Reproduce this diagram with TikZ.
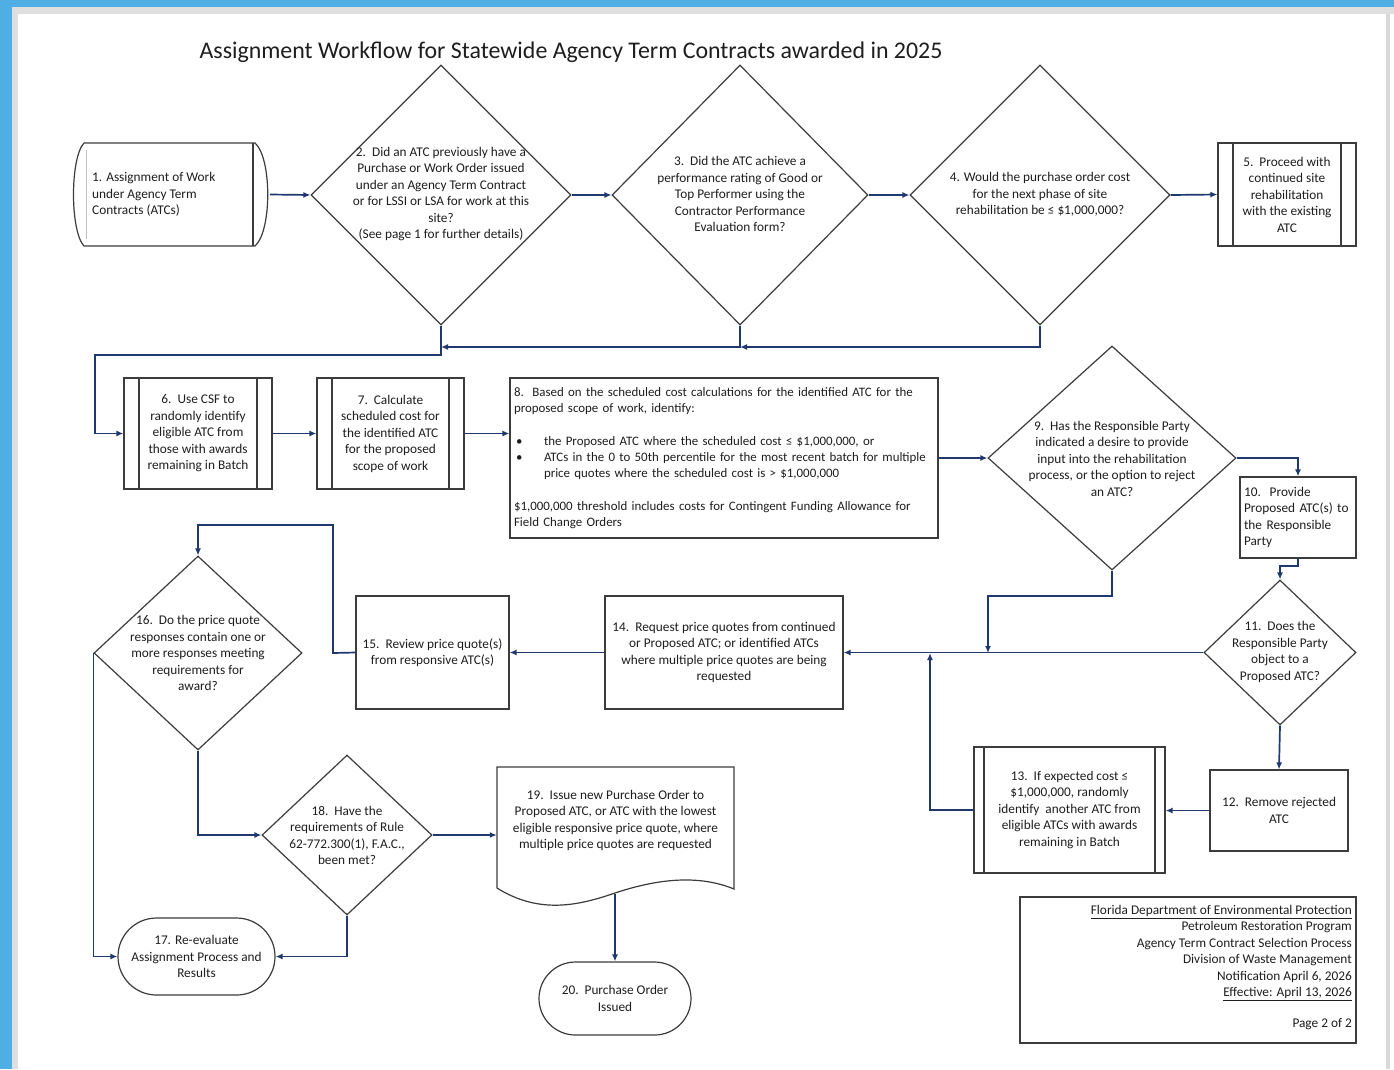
\documentclass[tikz,border=0pt]{standalone}
\usepackage{fontspec}
\setmainfont{Carlito}
\usetikzlibrary{shapes.geometric,shapes.misc,arrows.meta}
\definecolor{frameblue}{RGB}{79,174,228}
\definecolor{navy}{RGB}{31,56,110}
\definecolor{outl}{RGB}{60,60,60}
\definecolor{txtc}{RGB}{30,30,30}
\begin{document}
\begin{tikzpicture}[x=1pt,y=-1pt,
  ft/.style={font=\fontsize{13.3}{16.5}\selectfont, text=txtc},
  shp/.style={draw=outl, line width=1.2pt},
  box/.style={shp, rectangle, inner sep=0pt, ft, align=center},
  pp/.style={box, path picture={\draw[outl,line width=1.2pt]
     ([xshift=#1]path picture bounding box.north west) -- ([xshift=#1]path picture bounding box.south west)
     ([xshift=-#1]path picture bounding box.north east) -- ([xshift=-#1]path picture bounding box.south east);}},
  pp/.default=15pt,
  dia/.style={shp, diamond, inner sep=0pt},
  lbl/.style={ft, align=center, inner sep=0pt},
  term/.style={shp, rounded rectangle, inner sep=0pt, ft, align=center},
  conn/.style={draw=navy, line width=1.7pt, -{Latex[length=7pt,width=6pt]}},
  line/.style={draw=navy, line width=1.7pt}
]
\useasboundingbox (0,0) rectangle (1394,1069);
% page frame
\fill[frameblue] (0,0) rectangle (1394,1069);
\fill[gray!25] (12,7) rectangle (1394,1069);
\fill[white] (18,14) rectangle (1394,1069);
\fill[gray!30] (1386,14) rectangle (1390,1069);

% title
\node[font=\fontsize{23.9}{28}\selectfont, text=txtc, inner sep=0pt] (title) at (571,52)
  {Assignment Workflow for Statewide Agency Term Contracts awarded in 2025};

% ---- row 1
\node[minimum width=195pt, minimum height=103pt, inner sep=0pt] (n1) at (172.5,194.5) {};
\draw[shp] (84,143) -- (255,143) .. controls (272,158) and (272,231) .. (255,246)
   -- (84,246) .. controls (70,231) and (70,158) .. (84,143);
\draw[gray!50, line width=1pt] (86,150) -- (86,239);
\draw[outl, line width=1.2pt] (253,143) -- (253,246);
\node[lbl, align=left, anchor=west] (n1t) at (92,194.5)
  {1. Assignment of Work\\under Agency Term\\Contracts (ATCs)};

\node[dia, minimum width=260pt, minimum height=260pt] (d2) at (441,195) {};
\node[lbl] (d2t) at (441,194)
  {2.\ \ Did an ATC previously have a\\Purchase or Work Order issued\\under an Agency Term Contract\\or for LSSI or LSA for work at this\\site?\\(See page 1 for further details)};

\node[dia, minimum width=256pt, minimum height=260pt] (d3) at (740,195) {};
\node[lbl] (d3t) at (740,194)
  {3.\ \ Did the ATC achieve a\\performance rating of Good or\\Top Performer using the\\Contractor Performance\\Evaluation form?};

\node[dia, minimum width=260pt, minimum height=260pt] (d4) at (1040,195) {};
\node[lbl] (d4t) at (1040,194.5)
  {4. Would the purchase order cost\\for the next phase of site\\rehabilitation be ≤ \$1,000,000?};

\node[pp, minimum width=138pt, minimum height=103pt] (n5) at (1287,194.5)
  {5.\ \ Proceed with\\continued site\\rehabilitation\\with the existing\\ATC};

% ---- row 2
\node[pp, minimum width=148pt, minimum height=111pt] (n6) at (198,433.5)
  {6.\ \ Use CSF to\\randomly identify\\eligible ATC from\\those with awards\\remaining in Batch};
\node[pp, minimum width=147pt, minimum height=111pt] (n7) at (390.5,433.5)
  {7.\ \ Calculate\\scheduled cost for\\the identified ATC\\for the proposed\\scope of work};
\node[box, minimum width=428pt, minimum height=160pt, text width=420pt, align=left,
      font=\fontsize{12.9}{16.3}\selectfont] (n8) at (724,458)
  {8.\ \ Based on the scheduled cost calculations for the identified ATC for the\\
   proposed scope of work, identify:\\[16.3pt]
   \hspace*{2pt}\makebox[28pt][l]{\textbullet}the Proposed ATC where the scheduled cost ≤ \$1,000,000, or\\
   \hspace*{2pt}\makebox[28pt][l]{\textbullet}ATCs in the 0 to 50th percentile for the most recent batch for multiple\\
   \hspace*{30pt}price quotes where the scheduled cost is > \$1,000,000\\[16.3pt]
   \$1,000,000 threshold includes costs for Contingent Funding Allowance for\\
   Field Change Orders};

\node[dia, minimum width=248pt, minimum height=224pt] (d9) at (1112,458) {};
\node[lbl] (d9t) at (1112,458.5)
  {9.\ \ Has the Responsible Party\\indicated a desire to provide\\input into the rehabilitation\\process, or the option to reject\\an ATC?};

\node[box, minimum width=116pt, minimum height=81pt, text width=108pt, align=left] (n10) at (1298,517.5)
  {10.\ \ Provide\\Proposed ATC(s) to\\the Responsible\\Party};

% ---- row 3
\node[dia, minimum width=152pt, minimum height=145pt] (d11) at (1280,652.5) {};
\node[lbl] (d11t) at (1280,652)
  {11.\ \ Does the\\Responsible Party\\object to a\\Proposed ATC?};

\node[box, minimum width=238pt, minimum height=113pt] (n14) at (724,652.5)
  {14.\ \ Request price quotes from continued\\or Proposed ATC; or identified ATCs\\where multiple price quotes are being\\requested};
\node[box, minimum width=153pt, minimum height=113pt] (n15) at (432.5,652.5)
  {15.\ \ Review price quote(s)\\from responsive ATC(s)};

\node[dia, minimum width=208pt, minimum height=194pt] (d16) at (198,653) {};
\node[lbl] (d16t) at (198,653)
  {16.\ \ Do the price quote\\responses contain one or\\more responses meeting\\requirements for\\award?};

\node[box, minimum width=138pt, minimum height=81pt] (n12) at (1279,810.5)
  {12.\ \ Remove rejected\\ATC};
\node[pp=10pt, minimum width=191pt, minimum height=126pt] (n13) at (1069.5,810)
  {13.\ \ If expected cost ≤\\\$1,000,000, randomly\\identify\ \ another ATC from\\eligible ATCs with awards\\remaining in Batch};

% ---- row 4
\node[dia, minimum width=170pt, minimum height=160pt] (d18) at (347,835) {};
\node[lbl] (d18t) at (347,835.5)
  {18.\ \ Have the\\requirements of Rule\\62-772.300(1), F.A.C.,\\been met?};

\node[term, minimum width=157pt, minimum height=77pt] (n17) at (196.5,956.5)
  {17. Re-evaluate\\Assignment Process and\\Results};

\node[minimum width=237pt, minimum height=143pt, inner sep=0pt] (n19) at (615.5,838.5) {};
\draw[shp] (497,767) -- (734,767) -- (734,889)
  .. controls (700,875) and (660,878) .. (615,893)
  .. controls (580,905) and (540,915) .. (497,888) -- cycle;
\node[lbl] (n19t) at (615.5,820.5)
  {19.\ \ Issue new Purchase Order to\\Proposed ATC, or ATC with the lowest\\eligible responsive price quote, where\\multiple price quotes are requested};
\coordinate (w19) at (615,894);

\node[term, minimum width=152pt, minimum height=73pt] (n20) at (615,998.5)
  {20.\ \ Purchase Order\\Issued};

% footer box
\node[shp, rectangle, minimum width=336pt, minimum height=146pt, inner sep=0pt] (foot) at (1188,970) {};
\node[ft, align=right, inner sep=0pt, anchor=north east] (foott) at (1352,905)
  {\underline{Florida Department of Environmental Protection}\\
   Petroleum Restoration Program\\
   Agency Term Contract Selection Process\\
   Division of Waste Management\\
   Notification April 6, 2026\\
   \underline{Effective: April 13, 2026}\\[14pt]
   Page 2 of 2};

% ---- connectors
\draw[conn] (n1.east) -- (d2.west);
\draw[conn] (d2.east) -- (d3.west);
\draw[conn] (d3.east) -- (d4.west);
\draw[conn] (d4.east) -- (n5.west);

\coordinate (j3) at (740,347);
\coordinate (j2) at (441,347);
\coordinate (c2) at (95,355);
\draw[conn] (d4.south) |- (j3);
\draw[conn] (d3.south) |- (j2);
\draw[conn] (d2.south) |- (c2) |- (n6.west);

\draw[conn] (n6.east) -- (n7.west);
\draw[conn] (n7.east) -- (n7.east -| n8.west);
\draw[conn] (n8.east) -- (d9.west);
\draw[conn] (d9.east) -| (n10.north);
\coordinate (c10) at (1298,566);
\draw[conn] (n10.south) -- (c10) -| (d11.north);

\coordinate (j9) at (988,653);
\coordinate (c9) at (988,596);
\draw[conn] (d9.south) |- (c9) -- (j9);
\draw[conn] (d11.west) -- (n14.east);
\draw[conn] (d11.south) -- (n12.north);
\draw[conn] (n12.west) -- (n12.west -| n13.east);
\coordinate (c13) at (930,810);
\coordinate (j13) at (930,653);
\draw[conn] (n13.west) -- (c13) -- (j13);

\draw[conn] (n14.west) -- (n15.east);
\coordinate (c15a) at (333,653);
\coordinate (c15b) at (333,525);
\draw[conn] (n15.west) -- (c15a) -- (c15b) -| (d16.north);

\draw[conn] (d16.west) |- (n17.west);
\draw[conn] (d16.south) |- (d18.west);
\draw[conn] (d18.south) |- (n17.east);
\draw[conn] (d18.east) -- (d18.east -| n19.west);
\draw[conn] (w19) -- (n20.north);
\end{tikzpicture}
\end{document}
